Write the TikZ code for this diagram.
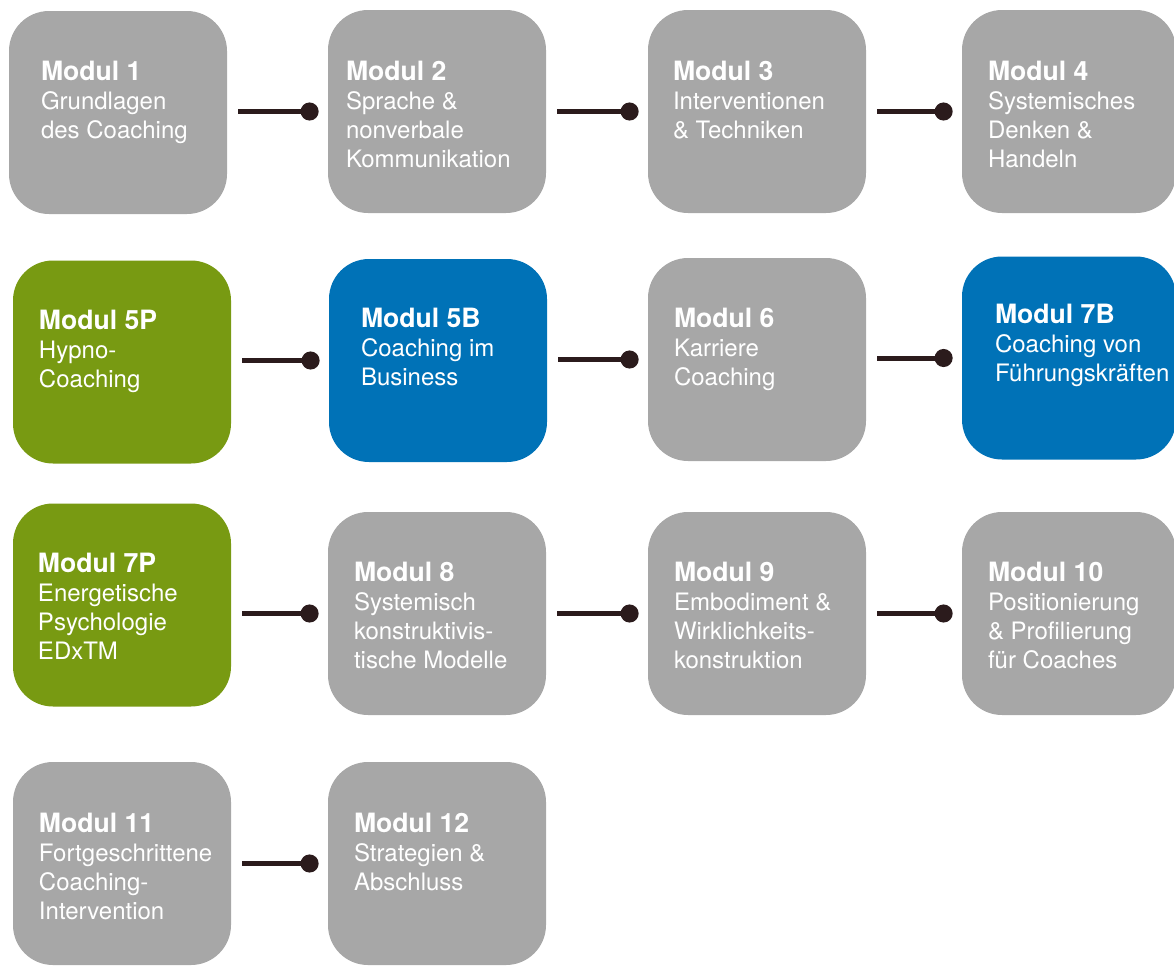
\documentclass[tikz,border=0pt]{standalone}
\usepackage{fontspec}
\setmainfont{TeX Gyre Heros}
\usetikzlibrary{positioning,arrows.meta}
\definecolor{modgrau}{RGB}{167,167,167}
\definecolor{modgruen}{RGB}{120,154,18}
\definecolor{modblau}{RGB}{0,114,183}
\definecolor{linkdunkel}{RGB}{43,27,28}
\tikzstyle{modul} = [rectangle,rounded corners=20pt,minimum width=109pt,minimum height=101.5pt,inner sep=0pt]
\tikzstyle{modtext} = [align=left,inner sep=0pt,text=white,font=\fontsize{12}{14.5}\selectfont]
\tikzstyle{line} = [draw=linkdunkel,line width=2.5pt,-{Circle[length=9pt]}]
\newcommand{\modtitel}[1]{{\bfseries\fontsize{13.3}{14.5}\selectfont #1}}

\begin{document}
\begin{tikzpicture}[x=0.5pt,y=-0.5pt]
            \useasboundingbox (0,0) rectangle (1174,965);
            % row 1
            \node[modul,fill=modgrau] (m1) at (118,112.5) {};
            \node[modtext,below right=25pt and 16pt of m1.north west] (t1) {\modtitel{Modul 1}\\Grundlagen\\des Coaching};
            \node[modul,fill=modgrau] (m2) at (437,111.5) {};
            \node[modtext,below right=25.5pt and 9pt of m2.north west] (t2) {\modtitel{Modul 2}\\Sprache \&\\nonverbale\\Kommunikation};
            \node[modul,fill=modgrau] (m3) at (757,111.5) {};
            \node[modtext,below right=25.5pt and 12.5pt of m3.north west] (t3) {\modtitel{Modul 3}\\Interventionen\\\& Techniken};
            \node[modul,fill=modgrau,minimum width=107pt] (m4) at (1069,111.5) {};
            \node[modtext,below right=25.5pt and 13pt of m4.north west] (t4) {\modtitel{Modul 4}\\Systemisches\\Denken \&\\Handeln};
            \path[line] ([xshift=5.5pt]m2.west -| m1.east) -- ([xshift=-4.5pt]m2.west);
            \path[line] ([xshift=5.5pt]m3.west -| m2.east) -- ([xshift=-4.5pt]m3.west);
            \path[line] ([xshift=5.5pt]m4.west -| m3.east) -- ([xshift=-4.5pt]m4.west);
            % row 2
            \node[modul,fill=modgruen] (m5p) at (122,362) {};
            \node[modtext,below right=25pt and 13pt of m5p.north west] (t5p) {\modtitel{Modul 5P}\\Hypno-\\Coaching};
            \node[modul,fill=modblau] (m5b) at (438,360.5) {};
            \node[modtext,below right=24.5pt and 16pt of m5b.north west] (t5b) {\modtitel{Modul 5B}\\Coaching im\\Business};
            \node[modul,fill=modgrau] (m6) at (757,359.5) {};
            \node[modtext,below right=25pt and 13pt of m6.north west] (t6) {\modtitel{Modul 6}\\Karriere\\Coaching};
            \node[modul,fill=modblau,minimum width=107pt] (m7b) at (1069,358) {};
            \node[modtext,below right=24pt and 16.5pt of m7b.north west] (t7b) {\modtitel{Modul 7B}\\Coaching von\\Führungskräften};
            \path[line] ([xshift=5.5pt]m5b.west -| m5p.east) -- ([xshift=-4.5pt]m5b.west);
            \path[line] ([xshift=5.5pt]m6.west -| m5b.east) -- ([xshift=-4.5pt]m6.west);
            \path[line] ([xshift=5.5pt]m7b.west -| m6.east) -- ([xshift=-4.5pt]m7b.west);
            % row 3
            \node[modul,fill=modgruen] (m7p) at (122,605) {};
            \node[modtext,below right=25pt and 12.5pt of m7p.north west] (t7p) {\modtitel{Modul 7P}\\Energetische\\Psychologie\\EDxTM};
            \node[modul,fill=modgrau] (m8) at (437,613.5) {};
            \node[modtext,below right=25pt and 13pt of m8.north west] (t8) {\modtitel{Modul 8}\\Systemisch\\konstruktivis-\\tische Modelle};
            \node[modul,fill=modgrau] (m9) at (757,613.5) {};
            \node[modtext,below right=25pt and 13pt of m9.north west] (t9) {\modtitel{Modul 9}\\Embodiment \&\\Wirklichkeits-\\konstruktion};
            \node[modul,fill=modgrau,minimum width=107pt] (m10) at (1069,613.5) {};
            \node[modtext,below right=25pt and 13pt of m10.north west] (t10) {\modtitel{Modul 10}\\Positionierung\\\& Profilierung\\für Coaches};
            \path[line] ([xshift=5.5pt]m8.west -| m7p.east) -- ([xshift=-4.5pt]m8.west);
            \path[line] ([xshift=5.5pt]m9.west -| m8.east) -- ([xshift=-4.5pt]m9.west);
            \path[line] ([xshift=5.5pt]m10.west -| m9.east) -- ([xshift=-4.5pt]m10.west);
            % row 4
            \node[modul,fill=modgrau] (m11) at (122,863.5) {};
            \node[modtext,below right=25.5pt and 13pt of m11.north west] (t11) {\modtitel{Modul 11}\\Fortgeschrittene\\Coaching-\\Intervention};
            \node[modul,fill=modgrau] (m12) at (437,863.5) {};
            \node[modtext,below right=25.5pt and 13pt of m12.north west] (t12) {\modtitel{Modul 12}\\Strategien \&\\Abschluss};
            \path[line] ([xshift=5.5pt]m12.west -| m11.east) -- ([xshift=-4.5pt]m12.west);
        \end{tikzpicture}
\end{document}
